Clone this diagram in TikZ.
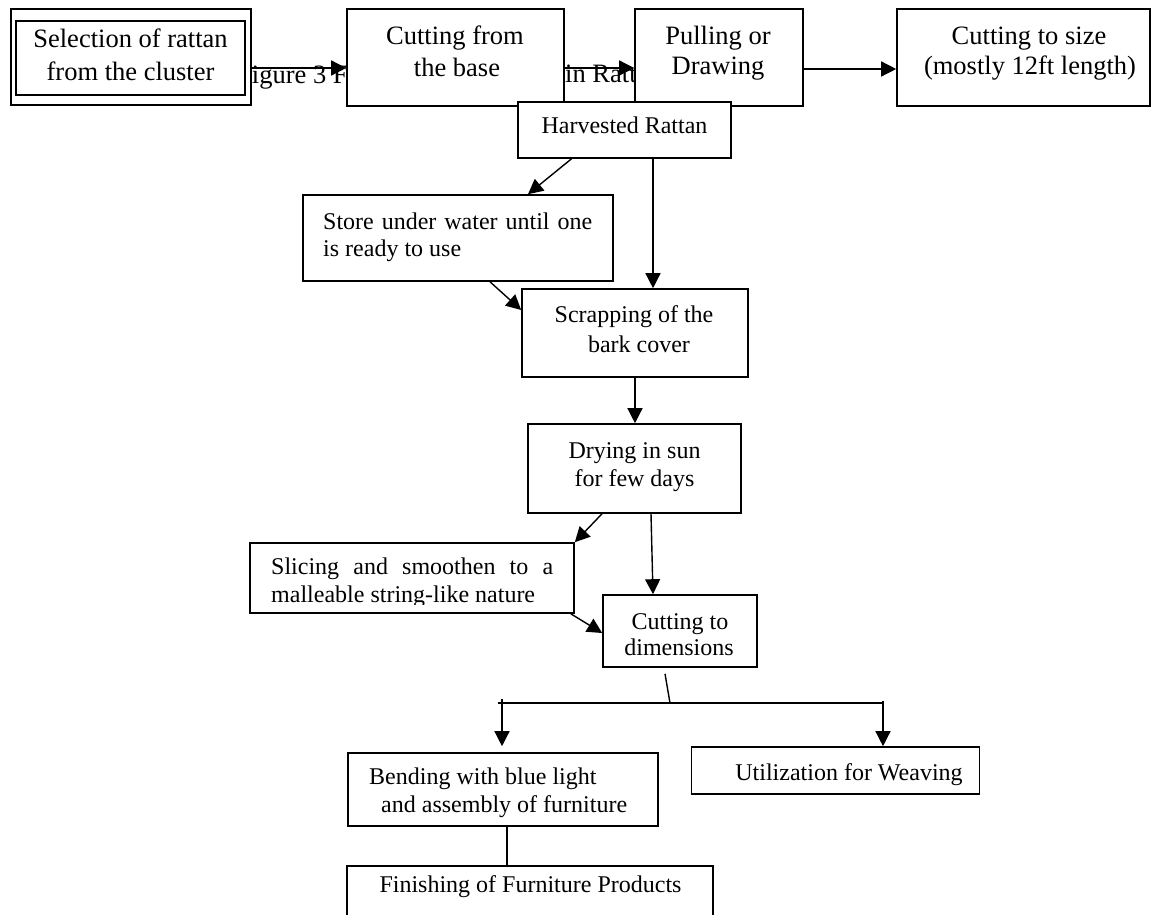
\documentclass[tikz,border=0pt]{standalone}
\usepackage{fontspec}
\setmainfont{Liberation Serif}
\usetikzlibrary{arrows.meta,calc}
\setlength{\parindent}{0pt}
\newcommand{\fntTop}{\fontsize{26.5}{30}\selectfont}
\newcommand{\fntMid}{\fontsize{24}{29}\selectfont}
\begin{document}
\begin{tikzpicture}[x=1pt,y=-1pt,
  box/.style={draw, line width=1.6pt, fill=white, inner sep=0pt, rectangle},
  lbl/.style={anchor=base, inner sep=0pt, font=\fntMid},
  ttop/.style={lbl, font=\fntTop},
  arr/.style={line width=1.4pt, -{Triangle[length=15pt,width=15pt]}},
  ln/.style={line width=1.4pt}]
\useasboundingbox (0,0) rectangle (1154,915);
\clip (0,0) rectangle (1154,915);

% caption fragments (partly hidden behind the boxes)
\node[ttop, anchor=base west] (cap1) at (237,84) {Figure 3 F};
\node[ttop, anchor=base west] (cap2) at (565,83) {in Rattan};

% top row
\node[box, minimum width=240pt, minimum height=96pt] (b1) at (131,57) {};
\draw[line width=1.6pt] ($(b1.center)+(-115.3,-36)$) rectangle ($(b1.center)+(114,38)$);
\node[ttop] (b1a) at (130.5,48) {Selection of rattan};
\node[ttop] (b1b) at (130.5,80.5) {from the cluster};

\node[box, minimum width=217pt, minimum height=97pt] (b2) at (455.5,57.5) {};
\node[ttop] (b2a) at (455,45) {Cutting from};
\node[ttop] (b2b) at (457,77) {the base};

\node[box, minimum width=168pt, minimum height=97pt] (b3) at (719,57.5) {};
\node[ttop] (b3a) at (718,45) {Pulling or};
\node[ttop] (b3b) at (718,75) {Drawing};

\node[box, minimum width=253pt, minimum height=97pt] (b4) at (1023.5,57.5) {};
\node[ttop] (b4a) at (1029,45) {Cutting to size};
\node[ttop] (b4b) at (1030,75) {(mostly 12ft length)};

% middle
\node[box, minimum width=213pt, minimum height=56pt] (h) at (624.5,130) {};
\node[lbl] (ha) at (624.5,134) {Harvested Rattan};

\node[box, minimum width=310pt, minimum height=86pt] (s) at (458,238) {};
\node[lbl, anchor=base west] (sa) at (323,229.5) {\makebox[269pt][s]{Store under water until one}};
\node[lbl, anchor=base west] (sb) at (323,256) {is ready to use};

\node[box, minimum width=226pt, minimum height=88pt] (sc) at (635,333) {};
\node[lbl] (sca) at (634,322) {Scrapping of the};
\node[lbl] (scb) at (639,352) {bark cover};

\node[box, minimum width=213pt, minimum height=89pt] (d) at (634.5,468.5) {};
\node[lbl] (da) at (634.5,458) {Drying in sun};
\node[lbl] (db) at (634.5,486) {for few days};

\node[box, minimum width=324pt, minimum height=70pt] (sl) at (412,578) {};
\begin{scope}
\clip (250,543) rectangle (574,604);
\node[lbl, anchor=base west] (sla) at (271,574) {\makebox[282pt][s]{Slicing and smoothen to a}};
\node[lbl, anchor=base west] (slb) at (271,602.5) {malleable string-like nature};
\end{scope}

\node[box, minimum width=154pt, minimum height=72pt] (cd) at (680,631) {};
\node[lbl] (cda) at (680,629) {Cutting to};
\node[lbl] (cdb) at (679,655.5) {dimensions};

% bottom
\node[box, minimum width=310pt, minimum height=73pt] (be) at (503,789.5) {};
\node[lbl, anchor=base west] (bea) at (369,784) {Bending with blue light};
\node[lbl, anchor=base west] (beb) at (381,812.5) {and assembly of furniture};

\node[box, minimum width=288pt, minimum height=47pt] (u) at (835.5,770.5) {};
\node[lbl] (ua) at (849,780) {Utilization for Weaving};

\node[box, minimum width=366pt, minimum height=80pt] (f) at (530,906) {};
\node[lbl] (fa) at (530.5,892) {Finishing of Furniture Products};

% connectors
\draw[arr] ($(b1.east)+(0,11)$) -- ($(b2.west)+(0,10.5)$);
\draw[arr] ($(b2.east)+(0,10.5)$) -- ($(b3.west)+(0,10.5)$);
\draw[arr] ($(b3.east)+(0,11.5)$) -- ($(b4.west)+(0,11.5)$);
\draw[arr] ($(h.south)+(-53,0)$) -- ($(s.north)+(70,0)$);
\draw[arr] ($(h.south)+(28.5,0)$) -- ($(sc.north)+(18,0)$);
\draw[arr] ($(s.south)+(32,0)$) -- ($(sc.west)+(0,-23)$);
\draw[arr] (sc.south) -- (sc.south |- d.north);
\draw[arr] ($(d.south)+(-32.5,0)$) -- (sl.north east);
\draw[arr] ($(d.south)+(16.5,0)$) -- ($(cd.north)+(-27,0)$);
\draw[arr] ($(sl.south east)+(-4,0)$) -- ($(cd.west)+(0,2)$);
\coordinate (j) at (670,703);
\coordinate (jl) at (498,703);
\coordinate (jr) at (883,703);
\coordinate (jla) at (502,699);
\draw[ln] ($(cd.south)+(-15,6)$) -- (j);
\draw[ln] (jl) -- (jr);
\draw[arr] (jla) -- ($(be.north -| jla)+(0,-6)$);
\draw[arr] ($(jr)+(0,-2)$) -- (u.north -| jr);
\draw[ln] ($(be.south)+(4,0)$) -- ($(f.north)+(-23,0)$);
\end{tikzpicture}
\end{document}
